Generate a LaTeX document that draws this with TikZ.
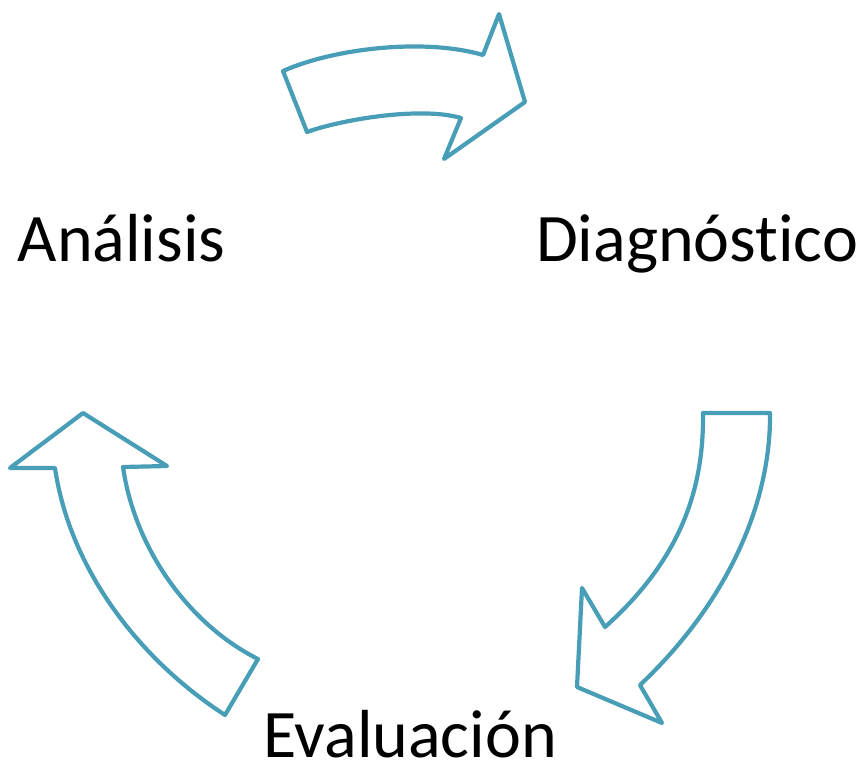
\documentclass[tikz,border=0pt]{standalone}
\usepackage{fontspec}
\setmainfont{Carlito}[Ligatures=NoCommon]
\usepackage{tikz}
\definecolor{ciclo}{RGB}{72,158,182}
\tikzset{flecha/.style={draw=ciclo, line width=4.2pt, line join=round, fill=white},
  etapa/.style={anchor=base, inner sep=0pt, font=\fontsize{68}{80}\selectfont}}

\begin{document}
\begin{tikzpicture}[x=1pt, y=-1pt]
        \useasboundingbox (0, 0) rectangle (864, 763);
        \path (121.5, 261.7) node[etapa] (An) {Análisis} (697, 261.7) node[etapa] (Di) {Diagnóstico} (410, 757.3) node[etapa] (Ev) {Evaluación};

        \draw[flecha] (283, 71) .. controls (335, 48) and (425, 38) .. (483, 55) -- (499, 14) -- (525, 102) -- (444, 159) -- (461, 118) .. controls (420, 106) and (340, 120) .. (307, 132) -- cycle;
        \draw[flecha] (703, 413) -- (770, 413) .. controls (771, 500) and (730, 600) .. (640, 685) -- (662, 723) -- (577, 687) -- (582, 588) -- (605, 627) .. controls (680, 560) and (704, 490) .. (703, 413) -- cycle;
        \draw[flecha] (83, 413) -- (167, 466) -- (123, 467) .. controls (135, 550) and (190, 625) .. (258, 659) -- (225, 715) .. controls (140, 660) and (70, 570) .. (55, 468) -- (10, 468) -- cycle;
        \end{tikzpicture}
\end{document}
